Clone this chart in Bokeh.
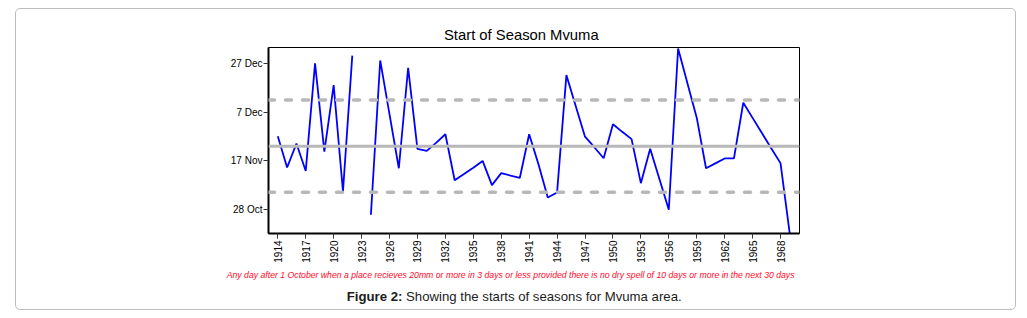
import math
import numpy as np
from bokeh.plotting import figure
from bokeh.models import Span, FixedTicker, Range1d, Div
from bokeh.layouts import column
from bokeh.embed import file_html
from bokeh.resources import INLINE

# ---- data (days after 1 October) ----
years = list(range(1914, 1970))
onset_days = [57.1, 44.3, 54.1, 42.9, 86.9, 50.8, 78.0, 34.5, 90.1, float("nan"),
              25.0, 88.1, 66.0, 44.0, 85.1, 51.9, 51.1, 54.4, 57.9, 39.1,
              41.6, 44.2, 47.0, 37.1, 42.0, 41.0, 40.1, 57.9, 45.6, 32.0,
              34.1, 82.1, 69.5, 56.9, 52.6, 48.1, 62.0, 58.9, 55.9, 37.9,
              52.0, 39.5, 27.0, 93.0, 78.8, 64.7, 44.0, 46.0, 48.0, 48.0,
              70.8, 64.6, 58.4, 52.2, 46.1, 17.0]
mean_day = 53.0
upper_day = 71.9
lower_day = 34.2
y_tick_days = [27, 47, 67, 87]
y_tick_labels = ["28 Oct", "17 Nov", "7 Dec", "27 Dec"]
x_ticks = list(range(1914, 1969, 3))

title_text = "Start of Season Mvuma"
note_text = ("Any day after 1 October when a place recieves 20mm or more in 3 days or less "
             "provided there is no dry spell of 10 days or more in the next 30 days")
caption_bold = "Figure 2:"
caption_text = "Showing the starts of seasons for Mvuma area."

FONT = "Liberation Sans"
W = 999

x0, x1 = 1913.0, 1970.04
y0, y1 = 17.3, 93.4

p = figure(width=W, height=222, output_backend="svg", toolbar_location=None,
           title=None, x_range=Range1d(x0, x1), y_range=Range1d(y0, y1),
           min_border_left=252, min_border_right=216, min_border_top=1,
           min_border_bottom=35, margin=0)
p.background_fill_color = "white"
p.border_fill_color = "white"
p.outline_line_color = "black"
p.outline_line_width = 1
p.grid.visible = False

# reference lines
p.add_layout(Span(location=mean_day, dimension="width", line_color="#b8b8b8",
                  line_width=3))
for loc in (upper_day, lower_day):
    p.add_layout(Span(location=loc, dimension="width", line_color="#b8b8b8",
                      line_width=3.5, line_dash="6 11", line_cap="round"))

p.line(years, onset_days, line_color="#0000ff", line_width=1.8)

# axes
xa = p.xaxis[0]
xa.ticker = FixedTicker(ticks=x_ticks)
xa.major_label_orientation = math.pi / 2
xa.major_label_text_font = FONT
xa.major_label_text_font_size = "10px"
xa.major_label_text_color = "black"
xa.major_tick_in = 0
xa.major_tick_out = 5
xa.minor_tick_line_color = None
xa.axis_line_width = 2
xa.axis_line_color = "black"
xa.major_label_standoff = 2
xa.major_tick_line_color = "#333333"

ya = p.yaxis[0]
ya.ticker = FixedTicker(ticks=y_tick_days)
ya.major_label_overrides = {d: s for d, s in zip(y_tick_days, y_tick_labels)}
ya.major_label_text_font = FONT
ya.major_label_text_font_size = "10px"
ya.major_label_text_color = "black"
ya.major_tick_in = 0
ya.major_tick_out = 5
ya.minor_tick_line_color = None
ya.axis_line_width = 2
ya.axis_line_color = "black"
ya.major_label_standoff = 1
ya.major_tick_line_color = "#333333"

SPAN = "position:absolute;white-space:nowrap;line-height:1;font-family:'Liberation Sans',Arial,sans-serif;"

top_html = (f'<div style="position:relative;width:{W}px;height:37px;margin:0;padding:0">'
            f'<span style="{SPAN}left:428px;top:18.5px;font-size:14.8px;color:#000">{title_text}</span>'
            '</div>')
bottom_html = (f'<div style="position:relative;width:{W}px;height:41px;margin:0;padding:0">'
               f'<span style="{SPAN}left:210.7px;top:3.4px;font-size:8.7px;font-style:italic;color:#ff0a2a">{note_text}</span>'
               f'<span style="{SPAN}left:330.7px;top:22.1px;font-size:13.2px;color:#1c1c1c">'
               f'<b>{caption_bold}</b> {caption_text}</span>'
               '</div>')

top_div = Div(text=top_html, width=W, height=37, margin=0)
bottom_div = Div(text=bottom_html, width=W, height=41, margin=0)

layout = column(top_div, p, bottom_div, spacing=0,
                styles={"margin-left": "15px", "margin-top": "8px",
                        "border": "1px solid #bdbdbd", "border-radius": "5px",
                        "background": "white"})

open("out.html", "w").write(file_html(layout, INLINE))
